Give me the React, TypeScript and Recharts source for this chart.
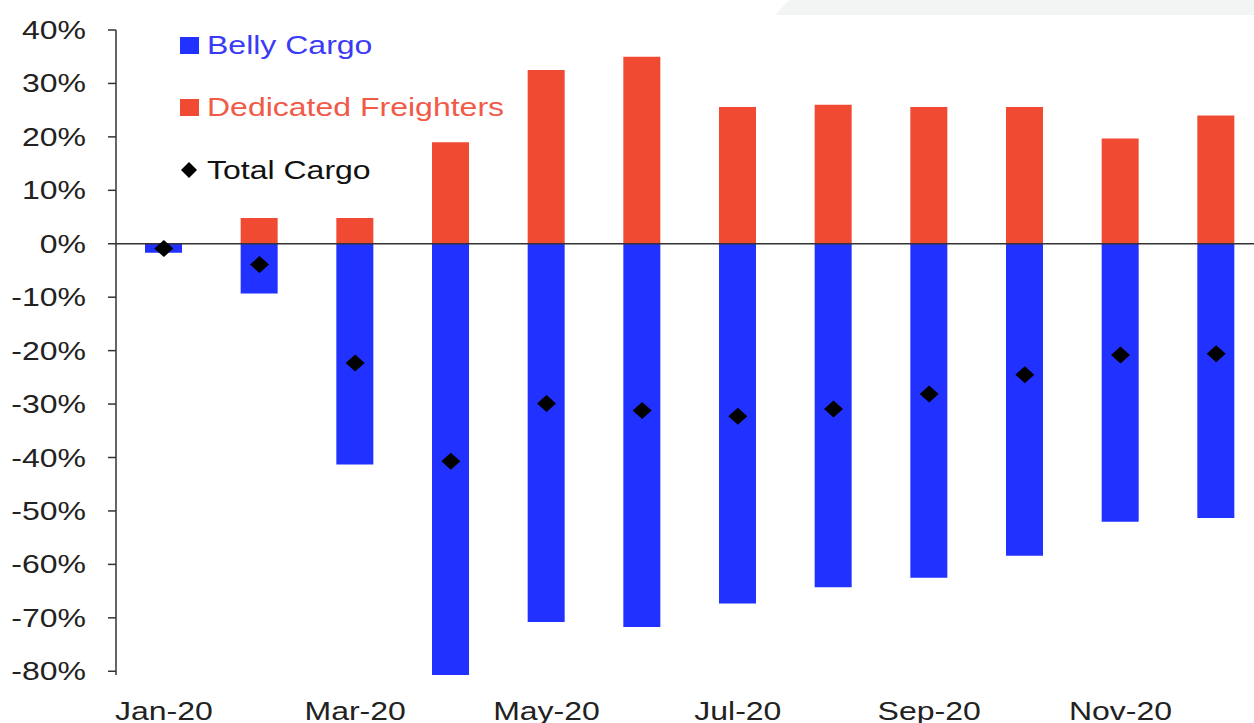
import React from 'react';
import { ComposedChart, Bar, Scatter, XAxis, YAxis, ReferenceLine, Legend } from 'recharts';

const months = ['Jan-20', 'Feb-20', 'Mar-20', 'Apr-20', 'May-20', 'Jun-20', 'Jul-20', 'Aug-20', 'Sep-20', 'Oct-20', 'Nov-20', 'Dec-20'];
const bellyCargo = [-1.7, -9.3, -41.3, -80.7, -70.8, -71.7, -67.3, -64.3, -62.5, -58.4, -52.0, -51.3];
const dedicatedFreighters = [0, 4.8, 4.8, 19.0, 32.5, 35.0, 25.6, 26.0, 25.6, 25.6, 19.7, 24.0];
const totalCargo = [-0.9, -3.9, -22.3, -40.7, -29.9, -31.2, -32.3, -30.9, -28.1, -24.5, -20.8, -20.6];
const yTicks = [-80, -70, -60, -50, -40, -30, -20, -10, 0, 10, 20, 30, 40];

const data = months.map((m, i) => ({
  month: m,
  belly: bellyCargo[i],
  freighters: dedicatedFreighters[i],
  total: totalCargo[i],
}));

const BLUE = '#2131FF';
const RED = '#F04A33';
const FONT = '"Liberation Sans", Arial, sans-serif';
const FS = 25;
const SX = 1.28;

const Diamond = (props: any) => {
  const { cx, cy } = props;
  const rx = 9.5;
  const ry = 8.5;
  return <polygon points={`${cx},${cy - ry} ${cx + rx},${cy} ${cx},${cy + ry} ${cx - rx},${cy}`} fill="#000" />;
};

const YTick = (props: any) => {
  const { x, y, payload } = props;
  return (
    <text
      transform={`translate(${x},${y}) scale(${SX},1)`}
      textAnchor="end"
      dy="0.36em"
      fontSize={FS}
      fontFamily={FONT}
      fill="#222"
    >
      {`${payload.value}%`}
    </text>
  );
};

const XTick = (props: any) => {
  const { x, y, payload } = props;
  return (
    <text
      transform={`translate(${x},${y + 45}) scale(${SX},1)`}
      textAnchor="middle"
      fontSize={FS}
      fontFamily={FONT}
      fill="#222"
    >
      {payload.value}
    </text>
  );
};

const textStyle = (color: string): React.CSSProperties => ({
  position: 'absolute',
  left: 207,
  fontFamily: FONT,
  fontSize: FS,
  lineHeight: '30px',
  color,
  whiteSpace: 'nowrap',
  transform: `scaleX(${SX})`,
  transformOrigin: 'left center',
});

const LegendContent = () => (
  <div style={{ position: 'relative', width: 600, height: 200 }}>
    <span style={{ position: 'absolute', left: 180, top: 37, width: 19, height: 17, background: BLUE }} />
    <span style={{ ...textStyle('#3B3BF5'), top: 30 }}>Belly Cargo</span>
    <span style={{ position: 'absolute', left: 180, top: 99, width: 19, height: 17, background: RED }} />
    <span style={{ ...textStyle('#F25A48'), top: 92 }}>Dedicated Freighters</span>
    <svg width={20} height={20} style={{ position: 'absolute', left: 179, top: 160 }}>
      <polygon points="10,2 18,10 10,18 2,10" fill="#000" />
    </svg>
    <span style={{ ...textStyle('#111'), top: 155 }}>Total Cargo</span>
  </div>
);

export default function App() {
  return (
    <div style={{ position: 'fixed', left: 0, top: 0, width: 1254, height: 723, overflow: 'hidden', background: '#fff' }}>
      <div
        style={{
          position: 'absolute',
          left: 775,
          top: 0,
          width: 479,
          height: 15,
          background: '#F3F4F4',
          clipPath: 'polygon(3% 0, 100% 0, 100% 100%, 0 100%)',
        }}
      />
      <ComposedChart
        width={1275}
        height={723}
        data={data}
        stackOffset="sign"
        margin={{ top: 30, right: 11, left: 0, bottom: 0 }}
        style={{ position: 'absolute', left: 0, top: 0 }}
      >
        <XAxis
          dataKey="month"
          interval={1}
          axisLine={false}
          tickLine={false}
          tickSize={0}
          tickMargin={0}
          height={48}
          tick={<XTick />}
        />
        <YAxis
          domain={[-80, 40]}
          ticks={yTicks}
          interval={0}
          width={116}
          axisLine={{ stroke: '#333', strokeWidth: 1.5 }}
          tickLine={{ stroke: '#333', strokeWidth: 1.5 }}
          tickSize={8}
          tickMargin={22}
          tick={<YTick />}
        />
        <Bar dataKey="belly" name="Belly Cargo" stackId="a" fill={BLUE} barSize={37} isAnimationActive={false} />
        <Bar dataKey="freighters" name="Dedicated Freighters" stackId="a" fill={RED} barSize={37} isAnimationActive={false} />
        <ReferenceLine y={0} stroke="#333" strokeWidth={1.5} />
        <Scatter dataKey="total" name="Total Cargo" fill="#000" shape={<Diamond />} isAnimationActive={false} />
        <Legend
          layout="vertical"
          align="center"
          verticalAlign="middle"
          content={<LegendContent />}
          wrapperStyle={{ position: 'absolute', left: 0, top: 0, width: 600, height: 200 }}
        />
      </ComposedChart>
    </div>
  );
}
